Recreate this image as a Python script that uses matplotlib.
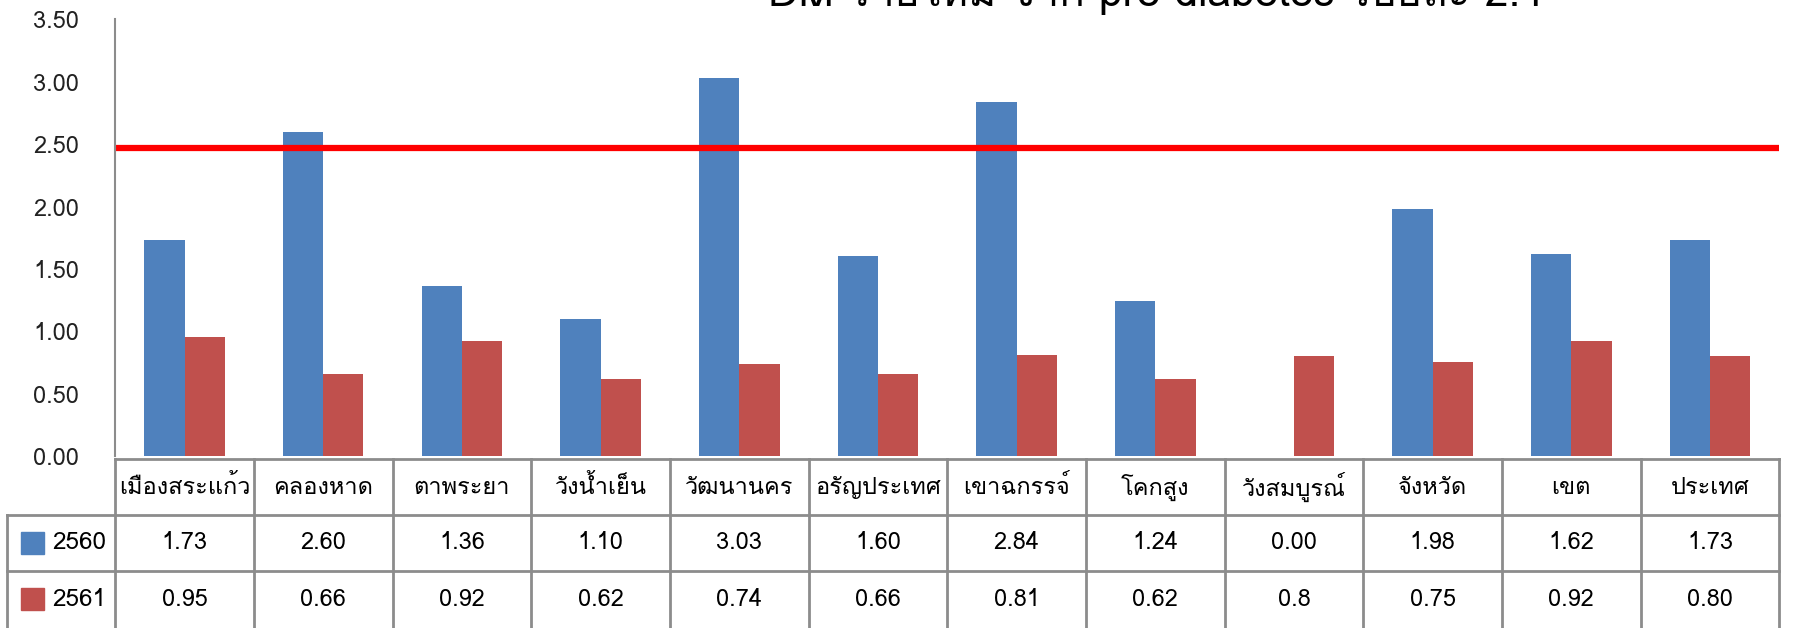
import matplotlib
matplotlib.use("Agg")
import matplotlib.pyplot as plt
import matplotlib.transforms as mtransforms
from matplotlib import font_manager
from matplotlib.ft2font import FT2Font
import numpy as np

# data
categories = ["เมืองสระแก้ว", "คลองหาด", "ตาพระยา", "วังน้ำเย็น", "วัฒนานคร", "อรัญประเทศ",
              "เขาฉกรรจ์", "โคกสูง", "วังสมบูรณ์", "จังหวัด", "เขต", "ประเทศ"]
series_names = ["2560", "2561"]
values_2560 = [1.73, 2.60, 1.36, 1.10, 3.03, 1.60, 2.84, 1.24, 0.00, 1.98, 1.62, 1.73]
values_2561 = [0.95, 0.66, 0.92, 0.62, 0.74, 0.66, 0.81, 0.62, 0.80, 0.75, 0.92, 0.80]
labels_2560 = ["1.73", "2.60", "1.36", "1.10", "3.03", "1.60", "2.84", "1.24", "0.00", "1.98", "1.62", "1.73"]
labels_2561 = ["0.95", "0.66", "0.92", "0.62", "0.74", "0.66", "0.81", "0.62", "0.8", "0.75", "0.92", "0.80"]
target = 2.47
title = "DM รายใหม่ จาก pre diabetes ร้อยละ 2.4"


def find_thai_font():
    # first installed font that has Thai glyphs
    for f in font_manager.fontManager.ttflist:
        try:
            if 0x0E01 in FT2Font(f.fname).get_charmap():
                return f.name
        except Exception:
            pass
    return None


thai = find_thai_font()
if thai:
    plt.rcParams['font.family'] = [thai, 'DejaVu Sans']
else:
    plt.rcParams['font.family'] = ['DejaVu Sans']

blue = "#4F81BD"
red = "#C0504D"
grid = "#8C8C8C"

fig = plt.figure(figsize=(18.01, 6.28), dpi=100)
ax = fig.add_axes([0.064, 0.274, 0.924, 0.695])

x = np.arange(len(categories))
w = 0.29
ax.bar(x - w / 2, values_2560, w, color=blue)
ax.bar(x + w / 2, values_2561, w, color=red)
ax.axhline(target, color="#FF0000", lw=4.5)

ax.set_xlim(-0.5, len(categories) - 0.5)
ax.set_ylim(0, 3.5)
ax.set_yticks(np.arange(0, 3.51, 0.5))
ax.set_yticklabels(["%.2f" % v for v in np.arange(0, 3.51, 0.5)], fontsize=17, color="#222222")
ax.tick_params(axis='y', length=0, pad=26)
ax.set_xticks([])
for s in ["top", "right", "bottom"]:
    ax.spines[s].set_visible(False)
ax.spines["left"].set_color(grid)
ax.spines["left"].set_linewidth(1.5)

# title is cut by the top edge, like in the source picture
fig.text(0.642, 0.990, title, fontsize=30.5, ha="center", va="baseline")

# data table under the axes
tr = mtransforms.blended_transform_factory(ax.transData, fig.transFigure)
y_top, y_r1, y_r2, y_bot = 0.269, 0.180, 0.0908, 0.0
x_left = -0.5
x_right = len(categories) - 0.5
x_lab = -0.5 - 108 / 1665 * len(categories)
lk = dict(color=grid, lw=2, transform=tr, clip_on=False)

ax.plot([x_left, x_right], [y_top, y_top], **lk)
ax.plot([x_lab, x_right], [y_r1, y_r1], **lk)
ax.plot([x_lab, x_right], [y_r2, y_r2], **lk)
ax.plot([x_lab, x_lab], [y_r1, y_bot], **lk)
for b in np.arange(x_left, x_right + 0.01, 1.0):
    ax.plot([b, b], [y_top, y_bot], **lk)

for i, c in enumerate(categories):
    ax.text(i, (y_top + y_r1) / 2, c, transform=tr, ha="center", va="center", fontsize=17)
    ax.text(i, (y_r1 + y_r2) / 2, labels_2560[i], transform=tr, ha="center", va="center", fontsize=17)
    ax.text(i, (y_r2 + y_bot) / 2, labels_2561[i], transform=tr, ha="center", va="center", fontsize=17)

for name, col, yc in [(series_names[0], blue, (y_r1 + y_r2) / 2), (series_names[1], red, (y_r2 + y_bot) / 2)]:
    fig.patches.append(plt.Rectangle((21 / 1801, yc - 11 / 628), 23 / 1801, 22 / 628,
                                     color=col, transform=fig.transFigure))
    fig.text(52 / 1801, yc, name, fontsize=17.5, ha="left", va="center")

fig.savefig("out.png", dpi=100)
